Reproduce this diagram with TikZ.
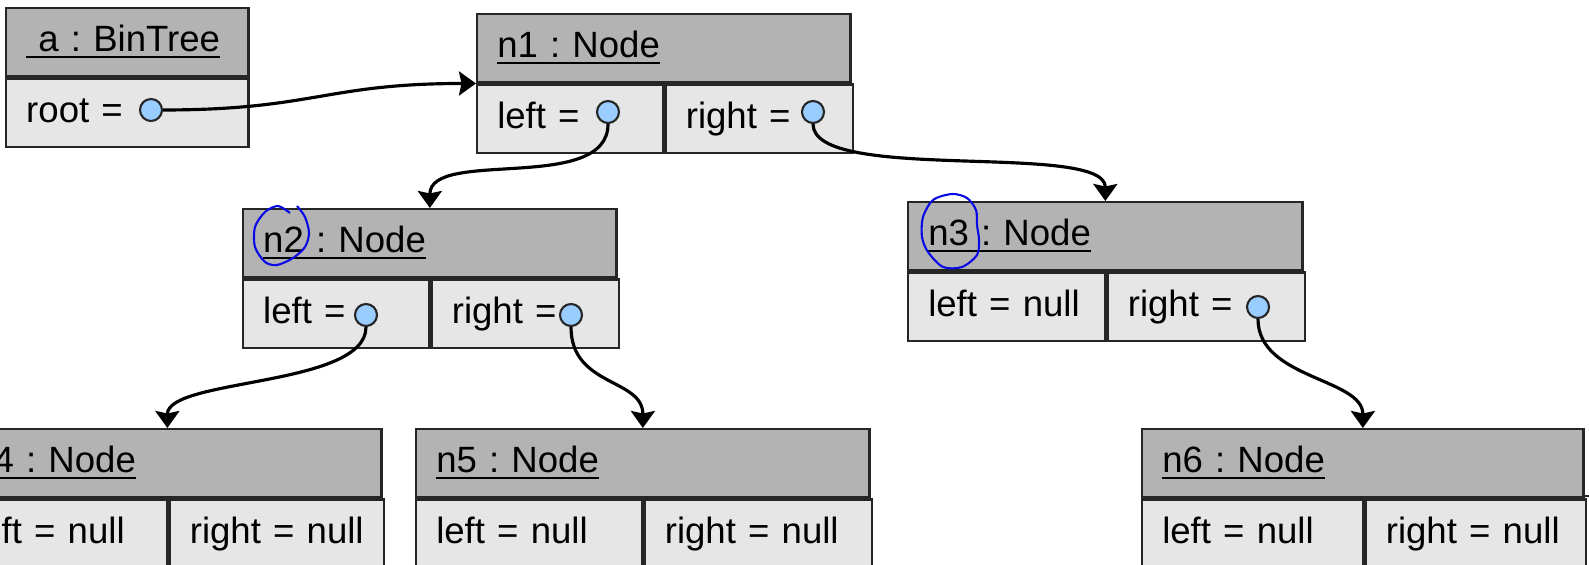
\documentclass[tikz,border=0pt]{standalone}
\usepackage{fontspec}
\setmainfont{Liberation Sans}
\usetikzlibrary{arrows.meta,positioning}
\definecolor{grisfonce}{HTML}{B3B3B3}
\definecolor{grisclair}{HTML}{E6E6E6}
\definecolor{bleuclair}{HTML}{99CCFF}
\definecolor{bord}{HTML}{262626}
\definecolor{encre}{HTML}{0A0AE6}
\frenchspacing

\begin{document}
\begin{tikzpicture}[x=0.01cm, y=-0.01cm, font=\fontsize{10.4}{12}\selectfont]
			\tikzset{entete/.style={draw=bord, fill=grisfonce, line width=0.7pt, anchor=north west, minimum height=0.68cm, inner xsep=0.2cm, inner ysep=0pt, align=left, text height=0.27cm, text depth=0.08cm}, champ/.style={entete, fill=grisclair}, pointeur/.style={circle, draw=bord, fill=bleuclair, line width=0.6pt, inner sep=0pt, minimum size=0.22cm}, fleche/.style={-{Stealth[length=0.17cm, width=0.24cm, inset=0.025cm]}, line width=0.9pt}, annot/.style={draw=encre, line width=0.6pt}};

			\useasboundingbox (0,0) rectangle (1589,565);
			\clip (0,0) rectangle (1589,565);

			\node[entete, text width=2.02cm] (ah) at (   5,   7) {\underline{\ a : BinTree}};
			\node[champ, text width=2.02cm] (ab) at (ah.south west) {root =};

			\node[entete, text width=3.33cm] (n1h) at ( 476,  13) {\underline{n1 : Node}};
			\node[champ, text width=1.46cm] (n1g) at (n1h.south west) {left =};
			\node[champ, text width=1.47cm] (n1d) at (n1g.north east) {right =};

			\node[entete, text width=3.33cm] (n2h) at ( 242, 208) {\underline{n2 : Node}};
			\node[champ, text width=1.46cm] (n2g) at (n2h.south west) {left =};
			\node[champ, text width=1.47cm] (n2d) at (n2g.north east) {right =};

			\node[entete, text width=3.54cm] (n3h) at ( 907, 201) {\underline{n3 : Node}};
			\node[champ, text width=1.57cm] (n3g) at (n3h.south west) {left = null};
			\node[champ, text width=1.57cm] (n3d) at (n3g.north east) {right =};

			\node[entete, text width=3.88cm] (n4h) at ( -48, 428) {\underline{n4 : Node}};
			\node[champ, text width=1.74cm] (n4g) at (n4h.south west) {left = null};
			\node[champ, text width=1.74cm] (n4d) at (n4g.north east) {right = null};

			\node[entete, text width=4.13cm] (n5h) at ( 415, 428) {\underline{n5 : Node}};
			\node[champ, text width=1.86cm] (n5g) at (n5h.south west) {left = null};
			\node[champ, text width=1.87cm] (n5d) at (n5g.north east) {right = null};

			\node[entete, text width=4.01cm] (n6h) at (1141, 428) {\underline{n6 : Node}};
			\node[champ, text width=1.81cm] (n6g) at (n6h.south west) {left = null};
			\node[champ, text width=1.80cm] (n6d) at (n6g.north east) {right = null};

			\node[pointeur] (ar)  at ( 151, 110) {};
			\node[pointeur] (n1l) at ( 608, 112) {};
			\node[pointeur] (n1r) at ( 813, 112) {};
			\node[pointeur] (n2l) at ( 366, 315) {};
			\node[pointeur] (n2r) at ( 571, 315) {};
			\node[pointeur] (n3r) at (1258, 307) {};

			\draw[fleche] (ar.east) .. controls +(150,0) and +(-150,0) .. (n1h.south west);
			\draw[fleche] (n1l.south) .. controls +(0,70) and +(0,-60) .. (n2h.north);
			\draw[fleche] (n1r.south) .. controls +(0,60) and +(0,-60) .. (n3h.north);
			\draw[fleche] (n2l.south) .. controls +(0,60) and +(0,-50) .. (n4h.north);
			\draw[fleche] (n2r.south) .. controls +(0,60) and +(0,-50) .. (n5h.north);
			\draw[fleche] (n3r.south) .. controls +(0,60) and +(0,-50) .. (n6h.north);

			\draw[bord, line width=0.7pt] (1585,496) -- (1592,496);

			% cercles a la main
			\draw[annot] plot[smooth] coordinates {(290,213) (278,206) (265,212) (255,227) (255,247) (265,262) (277,265) (293,258) (305,247) (309,233) (305,217) (297,206)};
			\draw[annot] plot[smooth cycle] coordinates {(952,194) (933,200) (923,217) (922,237) (928,252) (943,267) (962,267) (977,255) (979,240) (977,225) (976,210) (967,198)};

\end{tikzpicture}
\end{document}
